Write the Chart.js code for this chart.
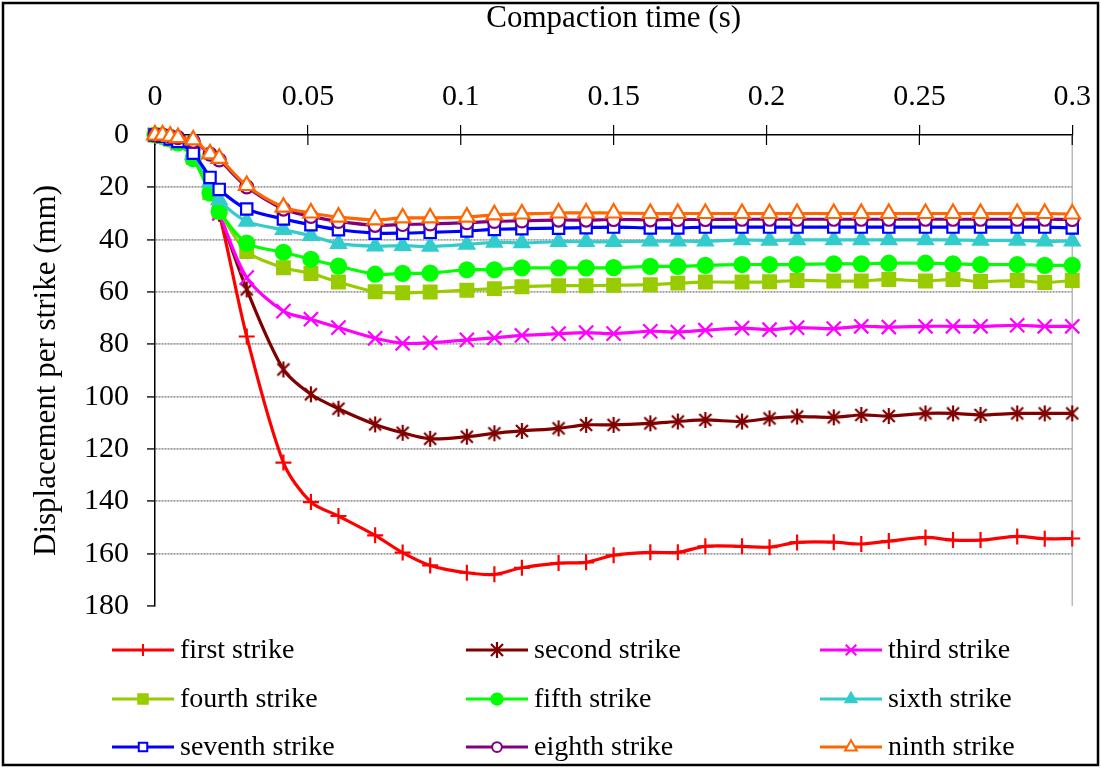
<!DOCTYPE html>
<html>
<head>
<meta charset="utf-8">
<script src="https://cdn.jsdelivr.net/npm/chart.js@4.4.1/dist/chart.umd.min.js"></script>
<style>
  html, body { margin: 0; padding: 0; background: #fff; }
  canvas { display: block; }
</style>
</head>
<body>
<canvas id="strikeChart" width="1101" height="768"></canvas>
<script>
'use strict';

// compaction time (s) for every sample
const times = [0, 0.0025, 0.005, 0.0075, 0.0125, 0.018, 0.021, 0.03, 0.042, 0.051, 0.06, 0.072, 0.081, 0.09,
	0.102, 0.111, 0.12, 0.132, 0.141, 0.15, 0.162, 0.171, 0.18, 0.192, 0.201, 0.21, 0.222, 0.231, 0.24,
	0.252, 0.261, 0.27, 0.282, 0.291, 0.3];

// displacement per strike (mm)
const firstStrike = [0, 0.5, 1.5, 3, 8, 22, 30, 77, 125.2, 140.3, 145.6, 153, 159.6, 164.5, 167.3, 167.9, 165.4,
	163.6, 163.3, 160.6, 159.5, 159.5, 157.2, 157.2, 157.5, 155.7, 155.6, 156.3, 155.2, 153.8, 154.8, 154.8, 153.4, 154.3, 154.2];
const secondStrike = [0, 0.5, 1.5, 3, 8, 22, 30, 59, 89.6, 99.1, 104.6, 110.6, 113.8, 116.1, 115.3, 114, 113.1,
	112.1, 110.8, 110.8, 110.2, 109.5, 108.9, 109.5, 108.3, 107.6, 107.9, 107, 107.4, 106.4, 106.4, 107, 106.4, 106.4, 106.4];
const thirdStrike = [0, 0.5, 1.5, 3, 8, 22, 30, 54.5, 67.3, 70.4, 73.6, 77.7, 79.6, 79.4, 78.3, 77.5, 76.6,
	75.9, 75.5, 75.9, 75, 75.3, 74.6, 73.8, 74.4, 73.6, 74, 73.1, 73.4, 73.1, 73.1, 73.1, 72.7, 73.1, 73.1];
const fourthStrike = [0, 0.5, 1.5, 3, 8.5, 22, 29, 44.5, 50.7, 52.9, 56.2, 59.9, 60.3, 60, 59.3, 58.7, 58,
	57.6, 57.6, 57.4, 57.2, 56.6, 56.2, 56.2, 56.1, 55.6, 55.8, 55.8, 55.2, 55.8, 55.2, 56, 55.6, 56.4, 55.6];
const fifthStrike = [0, 0.5, 1.5, 3, 9, 22.2, 29.2, 41.3, 44.8, 47.5, 50.1, 53.2, 52.9, 52.8, 51.5, 51.5, 50.8,
	50.8, 50.8, 50.7, 50.2, 50.2, 49.8, 49.5, 49.5, 49.5, 49.2, 49.2, 49, 49, 49.2, 49.5, 49.5, 49.8, 49.8];
const sixthStrike = [0, 0.5, 1.5, 3, 7.5, 18, 24.8, 33, 36.2, 38.5, 41.5, 42.5, 42.3, 42.6, 41.8, 41, 41.2,
	40.8, 40.8, 40.8, 40.6, 40.6, 40.6, 40.1, 40.3, 40.1, 40.1, 40.1, 40.1, 40.1, 40.1, 40.3, 40.3, 40.6, 40.6];
const seventhStrike = [0, 0.5, 1.5, 2.5, 7, 16.2, 20.8, 28.3, 32.1, 34.3, 36.2, 37.5, 37.5, 37.2, 36.7, 36.1, 35.8,
	35.6, 35.4, 35.2, 35.5, 35.5, 35.2, 35.2, 35.2, 35.2, 35.2, 35.2, 35.2, 35.2, 35.2, 35.2, 35.2, 35.2, 35.5];
const eighthStrike = [0, 0, 0.5, 1, 2.4, 7.3, 9.5, 19.8, 28.3, 31.1, 33, 34.5, 34.2, 34, 33.5, 33, 32.8,
	32.5, 32.5, 32.3, 32.4, 32.3, 32.3, 32.2, 32.2, 32.2, 32.2, 32.2, 32.2, 32.2, 32.2, 32.2, 32.2, 32.2, 32.3];
const ninthStrike = [0, 0, 0.5, 1, 1.9, 7.2, 8.9, 19.3, 27.6, 29.8, 31.4, 32.4, 31.7, 31.7, 31.4, 30.5, 30.2,
	29.8, 29.8, 29.8, 30, 30, 30, 30, 30, 30, 30, 30, 30, 30, 30, 30, 30, 30, 30.2];

const seriesNames = ['first strike', 'second strike', 'third strike', 'fourth strike', 'fifth strike',
	'sixth strike', 'seventh strike', 'eighth strike', 'ninth strike'];
const seriesValues = [firstStrike, secondStrike, thirdStrike, fourthStrike, fifthStrike,
	sixthStrike, seventhStrike, eighthStrike, ninthStrike];

const xTicks = [0, 0.05, 0.1, 0.15, 0.2, 0.25, 0.3];
const yTicks = [0, 20, 40, 60, 80, 100, 120, 140, 160, 180];

const FONT = "'Liberation Serif', 'Times New Roman', serif";

// excel-style asterisk (x with a vertical bar)
const makeAsterisk = (color) => {
	const c = document.createElement('canvas');
	c.width = 18;
	c.height = 18;
	const g = c.getContext('2d');
	g.strokeStyle = color;
	g.lineWidth = 2.2;
	g.beginPath();
	g.moveTo(9, 1); g.lineTo(9, 17);
	g.moveTo(3, 3); g.lineTo(15, 15);
	g.moveTo(15, 3); g.lineTo(3, 15);
	g.stroke();
	return c;
};

const markerStyles = [
	{ color: '#FF0000', style: 'cross', radius: 8, fill: true },
	{ color: '#800000', style: makeAsterisk('#800000'), radius: 9, fill: true },
	{ color: '#FF00FF', style: 'crossRot', radius: 10, fill: true },
	{ color: '#99CC00', style: 'rect', radius: 9, fill: true },
	{ color: '#00FF00', style: 'circle', radius: 7.5, fill: true },
	{ color: '#33CCCC', style: 'triangle', radius: 8.5, fill: true },
	{ color: '#0000FF', style: 'rect', radius: 8, fill: false },
	{ color: '#800080', style: 'circle', radius: 6.5, fill: false },
	{ color: '#FF6600', style: 'triangle', radius: 9, fill: false },
];

const datasets = seriesNames.map((name, i) => {
	const m = markerStyles[i];
	return {
		label: name,
		data: times.map((t, j) => ({ x: t, y: seriesValues[i][j] })),
		borderColor: m.color,
		borderWidth: 3.2,
		tension: 0.3,
		pointStyle: m.style,
		pointRadius: m.radius,
		pointBorderWidth: 2.2,
		pointBorderColor: m.color,
		pointBackgroundColor: m.fill ? m.color : '#FFFFFF',
		clip: false,
		order: seriesNames.length - i,
	};
});

// frame, right edge and the inner half of the time-axis ticks
const framePlugin = {
	id: 'frame',
	beforeDatasetsDraw(chart) {
		const { ctx, chartArea } = chart;
		const xScale = chart.scales.x;
		ctx.save();
		ctx.strokeStyle = '#BBBBBB';
		ctx.lineWidth = 1.5;
		ctx.beginPath();
		ctx.moveTo(chartArea.right, chartArea.top);
		ctx.lineTo(chartArea.right, chartArea.bottom);
		ctx.stroke();
		ctx.strokeStyle = '#000';
		ctx.lineWidth = 1.2;
		ctx.beginPath();
		xScale.ticks.forEach((tk) => {
			const px = xScale.getPixelForValue(tk.value);
			ctx.moveTo(px, chartArea.top);
			ctx.lineTo(px, chartArea.top + 10);
		});
		ctx.stroke();
		ctx.restore();
	},
	afterDraw(chart) {
		const { ctx, width, height } = chart;
		ctx.save();
		ctx.strokeStyle = '#000';
		ctx.lineWidth = 2.5;
		ctx.strokeRect(3, 3, width - 6, height - 6);
		ctx.restore();
	},
};

// three-column legend under the plot
const legendPlugin = {
	id: 'gridLegend',
	afterDraw(chart) {
		const { ctx } = chart;
		const colX = [112, 466, 820];
		const rowY = [650, 699, 747];
		const lineLen = 62;
		ctx.save();
		ctx.font = `28px ${FONT}`;
		ctx.textBaseline = 'middle';
		ctx.fillStyle = '#000';
		chart.data.datasets.forEach((ds, i) => {
			const x = colX[i % 3];
			const y = rowY[Math.floor(i / 3)];
			ctx.strokeStyle = ds.borderColor;
			ctx.lineWidth = 3.2;
			ctx.beginPath();
			ctx.moveTo(x, y);
			ctx.lineTo(x + lineLen, y);
			ctx.stroke();
			ctx.fillStyle = ds.pointBackgroundColor;
			ctx.strokeStyle = ds.pointBorderColor;
			ctx.lineWidth = 2;
			Chart.helpers.drawPoint(ctx, {
				pointStyle: ds.pointStyle,
				rotation: 0,
				radius: ds.pointRadius * 0.75,
				borderWidth: 2,
			}, x + lineLen / 2, y);
			ctx.fillStyle = '#000';
			ctx.fillText(ds.label, x + lineLen + 6, y + 1);
		});
		ctx.restore();
	},
};

const chart = new Chart(document.getElementById('strikeChart'), {
	type: 'line',
	data: { datasets },
	plugins: [framePlugin, legendPlugin],
	options: {
		responsive: false,
		animation: false,
		events: [],
		layout: { padding: { left: 0, top: 0, right: 27, bottom: 162 } },
		plugins: { legend: { display: false }, tooltip: { enabled: false } },
		scales: {
			x: {
				type: 'linear',
				position: 'top',
				min: xTicks[0],
				max: xTicks[xTicks.length - 1],
				afterFit: (scale) => { scale.height = 135; },
				afterBuildTicks: (scale) => { scale.ticks = xTicks.map((v) => ({ value: v })); },
				ticks: {
					color: '#000',
					font: { family: FONT, size: 30 },
					padding: 10,
					maxRotation: 0,
					callback: (v) => String(Number(v.toFixed(2))),
				},
				grid: { drawOnChartArea: false, drawTicks: true, tickLength: 10, color: '#000', lineWidth: 1.2 },
				border: { display: true, color: '#000', width: 1.5 },
				title: {
					display: true,
					text: 'Compaction time (s)',
					color: '#000',
					font: { family: FONT, size: 31 },
					padding: { top: 0, bottom: 0 },
				},
			},
			y: {
				type: 'linear',
				position: 'left',
				reverse: true,
				min: yTicks[0],
				max: yTicks[yTicks.length - 1],
				afterFit: (scale) => { scale.width = 155; },
				afterBuildTicks: (scale) => { scale.ticks = yTicks.map((v) => ({ value: v })); },
				ticks: {
					color: '#000',
					font: { family: FONT, size: 30 },
					padding: 18,
				},
				grid: {
					color: (c) => (c.tick && (c.tick.value === 0 || c.tick.value === 180) ? 'rgba(0,0,0,0)' : '#999999'),
					lineWidth: 1.8,
					tickColor: '#444',
					tickLength: 8,
				},
				border: { display: true, color: '#000', width: 1.5, dash: [2, 1] },
				title: {
					display: true,
					text: 'Displacement per strike (mm)',
					color: '#000',
					font: { family: FONT, size: 31 },
					padding: { top: 28, bottom: 0 },
				},
			},
		},
	},
});
</script>
</body>
</html>
